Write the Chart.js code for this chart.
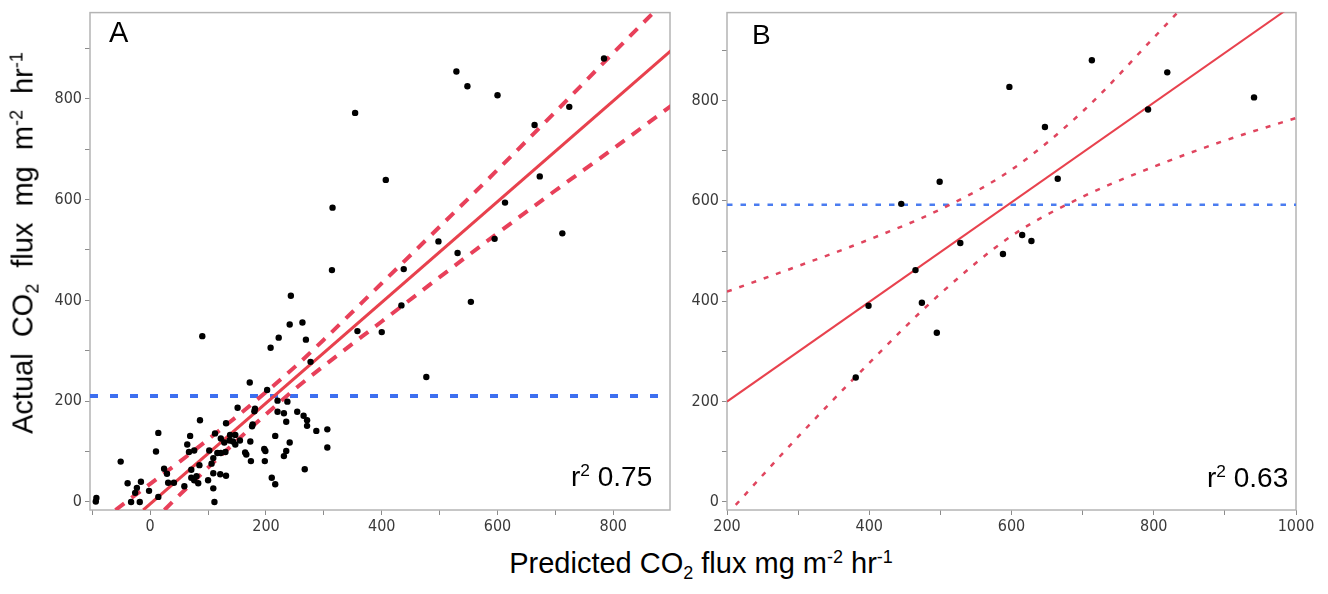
<!DOCTYPE html>
<html><head><meta charset="utf-8">
<script src="https://cdn.jsdelivr.net/npm/chart.js@4.4.1/dist/chart.umd.min.js"></script>
<style>
html,body{margin:0;padding:0;background:#fff;width:1328px;height:594px;overflow:hidden;position:relative;font-family:'Liberation Sans',Arial,sans-serif;}
canvas{position:absolute;top:0;}
.t{position:absolute;white-space:nowrap;color:#000;line-height:1;}
.t sub,.t sup{font-size:0.62em;line-height:0;position:relative;vertical-align:baseline;}
.t sub{top:0.32em;}
.t sup{top:-0.55em;}
</style></head><body>
<canvas id="ca" width="640" height="545" style="left:40px"></canvas>
<canvas id="cb" width="630" height="545" style="left:690px"></canvas>
<div class="t" style="font-size:29px;word-spacing:8px;left:23px;top:243px;transform:translate(-50%,-50%) rotate(-90deg);">Actual CO<sub>2</sub> flux mg m<sup>-2</sup> hr<sup>-1</sup></div>
<div class="t" style="font-size:29px;left:701px;top:549px;transform:translateX(-50%);">Predicted CO<sub>2</sub> flux mg m<sup>-2</sup> hr<sup>-1</sup></div>
<div class="t" style="font-size:29px;left:109px;top:18px;">A</div>
<div class="t" style="font-size:28px;left:752px;top:21px;">B</div>
<div class="t" style="font-size:28px;left:571px;top:463px;">r<sup>2</sup> 0.75</div>
<div class="t" style="font-size:28px;left:1207px;top:464px;">r<sup>2</sup> 0.63</div>
<script>
// ---- Panel A data ----
const A_pred = [529,548,600,354,784,724,664,407,673,315,613,498,531,595,712,
 438,314,243,554,434,90,241,263,222,208,269,358,400,277,477,
 172,202,181,180,151,220,237,220,231,235,254,265,271,271,287,306,306,131,177,176,
 112,122,138,147,137,143,147,155,128,130,122,116,109,106,109,121,131,109,111,173,
 164,166,174,197,199,198,216,241,235,231,210,216,267,
 -94,-93,-51,-39,-33,-26,-23,-16,-18,-2,14,10,14,24,29,31,41,59,64,67,69,76,86,71,71,80,76,83,85,100,102];
const A_actual = [854,825,807,772,880,784,748,639,646,584,594,517,494,522,533,
 462,460,409,397,390,329,352,356,326,306,322,339,337,278,248,
 237,222,185,180,187,201,199,179,176,159,179,171,162,151,141,144,108,156,154,150,
 136,126,133,133,122,120,114,122,118,99,97,97,87,76,57,55,52,27,0,120,
 98,94,81,105,101,81,131,118,101,91,48,35,65,
 1,8,80,37,0,18,28,40,0,22,10,100,137,66,56,38,38,31,114,99,131,102,162,64,48,51,43,37,73,43,102];
const A_fitX = [-12, 900];
const A_fitY = [-16, 896];
const A_upX = [-60, 0, 50, 100, 150, 200, 250, 300, 400, 500, 600, 700, 800, 900];
const A_upY = [-16, 36, 79, 124, 170, 218, 268, 322, 434, 546, 659, 774, 891, 1006];
const A_loX = [0, 50, 100, 150, 200, 250, 300, 400, 500, 600, 700, 800, 900];
const A_loY = [-44, 13, 68, 122, 174, 224, 270, 358, 446, 533, 618, 701, 786];
const A_meanY = 210;

// ---- Panel B data ----
const B_pred = [381,399,474,495,465,445,499,528,588,615,628,597,713,819,941,792,647,665];
const B_actual = [248,391,397,337,462,594,638,516,494,532,520,827,880,856,806,782,747,644];
const B_fitX = [200, 1000];
const B_fitY = [200, 994];
const B_upX = [200, 300, 400, 500, 600, 700, 800, 850];
const B_upY = [419, 470, 523, 583, 662, 778, 925, 1000];
const B_loX = [200, 300, 400, 500, 600, 700, 800, 900, 1000];
const B_loY = [-25, 130, 277, 415, 530, 608, 668, 720, 765];
const B_meanY = 592;

// ---- tick values ----
const A_xTicks = [-100,0,100,200,300,400,500,600,700,800];
const B_xTicks = [200,300,400,500,600,700,800,900,1000];
const yTicks = [0,100,200,300,400,500,600,700,800,900];

Chart.defaults.font.family = "'DejaVu Sans Condensed','Liberation Sans Narrow','Liberation Sans',sans-serif";

const zip = (xs, ys) => xs.map((x, i) => ({x: x, y: ys[i]}));

const frame = {id:'frame', beforeDatasetsDraw(chart){
  const {ctx, chartArea:a} = chart;
  ctx.save(); ctx.strokeStyle = '#b4b4b4'; ctx.lineWidth = 1.5;
  ctx.strokeRect(a.left, a.top, a.right - a.left, a.bottom - a.top);
  ctx.restore();
}};

function lineDs(data, color, width, dash){
  return {type:'scatter', data:data, showLine:true, borderColor:color, borderWidth:width,
    borderDash:dash, pointRadius:0, fill:false, cubicInterpolationMode:'monotone', borderCapStyle:'butt'};
}

function scales(xmin, xmax, xticks, ymin, ymax, ywidth){
  const grid = {display:true, drawOnChartArea:false, drawTicks:true, tickLength:5, color:'#8c8c8c', lineWidth:1};
  const tick = {color:'#3a3a3a', font:{size:16}, padding:2, maxRotation:0, autoSkip:false,
    callback: v => (v % 200 === 0 ? String(v) : '')};
  return {
    x:{type:'linear', min:xmin, max:xmax,
      afterBuildTicks: s => { s.ticks = xticks.map(v => ({value:v})); },
      afterFit: s => { s.height = 35; },
      grid:grid, border:{display:false}, ticks:tick},
    y:{type:'linear', min:ymin, max:ymax,
      afterBuildTicks: s => { s.ticks = yTicks.map(v => ({value:v})); },
      afterFit: s => { s.width = ywidth; },
      grid:grid, border:{display:false}, ticks:Object.assign({}, tick, {padding:3})}
  };
}

const common = {responsive:false, animation:false,
  plugins:{legend:{display:false}, tooltip:{enabled:false}}};

new Chart(document.getElementById('ca'), {
  type:'scatter',
  data:{datasets:[
    {data:zip(A_pred, A_actual), pointRadius:3.2, pointBackgroundColor:'#000', pointBorderWidth:0},
    lineDs(zip(A_fitX, A_fitY), '#e8414d', 3, []),
    lineDs(zip(A_upX, A_upY), '#e8405a', 4, [11, 9]),
    lineDs(zip(A_loX, A_loY), '#e8405a', 4, [11, 9]),
    lineDs(zip([-104, 898], [A_meanY, A_meanY]), '#3d6ff0', 4, [8, 12])
  ]},
  options:Object.assign({}, common, {
    layout:{padding:{top:7, right:10, left:0, bottom:0}},
    scales:scales(-104, 898, A_xTicks, -16, 971, 50)
  }),
  plugins:[frame]
});

new Chart(document.getElementById('cb'), {
  type:'scatter',
  data:{datasets:[
    {data:zip(B_pred, B_actual), pointRadius:3.2, pointBackgroundColor:'#000', pointBorderWidth:0},
    lineDs(zip(B_fitX, B_fitY), '#e8424e', 2, []),
    lineDs(zip(B_upX, B_upY), '#e0455e', 2.5, [5, 8]),
    lineDs(zip(B_loX, B_loY), '#e0455e', 2.5, [5, 8]),
    lineDs(zip([200, 1000], [B_meanY, B_meanY]), '#4a7cf0', 2.5, [5.5, 8])
  ]},
  options:Object.assign({}, common, {
    layout:{padding:{top:5, right:24, left:0, bottom:0}},
    scales:scales(200, 1000, B_xTicks, -16, 975, 37)
  }),
  plugins:[frame]
});
</script>
</body></html>
